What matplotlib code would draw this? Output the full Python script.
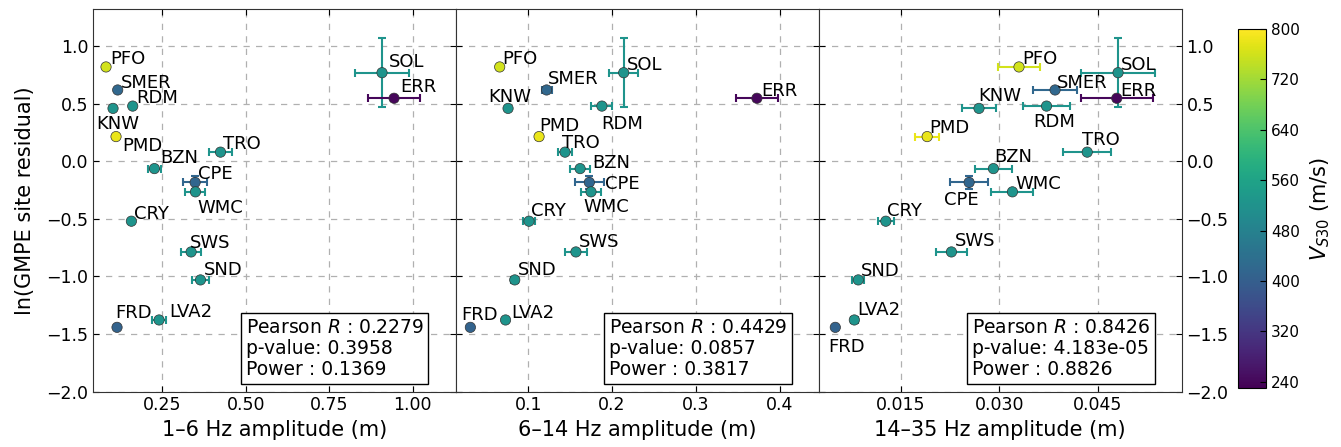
import matplotlib
matplotlib.use('Agg')
import matplotlib.pyplot as plt
import numpy as np

plt.rcParams.update({
    'font.family': 'DejaVu Sans',
    'xtick.direction': 'in',
    'ytick.direction': 'in',
    'xtick.top': True,
    'ytick.right': True,
    'xtick.major.size': 4,
    'ytick.major.size': 4,
    'mathtext.default': 'it',
})

# Station data
stations = ['PFO', 'SMER', 'RDM', 'KNW', 'PMD', 'BZN', 'TRO', 'CPE', 'WMC', 'CRY',
            'SOL', 'ERR', 'SWS', 'SND', 'FRD', 'LVA2']
vs30 = [760, 420, 525, 525, 780, 525, 525, 415, 525, 525,
        525, 240, 525, 525, 410, 525]
resid = [0.82, 0.62, 0.48, 0.46, 0.215, -0.063, 0.08, -0.183, -0.265, -0.52,
         0.77, 0.548, -0.787, -1.03, -1.442, -1.378]
resid_err = [0, 0, 0, 0, 0, 0, 0, 0.055, 0, 0,
             0.30, 0.02, 0, 0, 0, 0]

amp_1_6 = [0.081, 0.116, 0.161, 0.102, 0.111, 0.226, 0.424, 0.348, 0.349, 0.157,
           0.908, 0.944, 0.336, 0.364, 0.114, 0.240]
amp_1_6_err = [0, 0, 0, 0, 0, 0.019, 0.035, 0.036, 0.030, 0,
               0.080, 0.077, 0.030, 0.026, 0, 0.020]

amp_6_14 = [0.066, 0.122, 0.188, 0.076, 0.113, 0.162, 0.144, 0.173, 0.175, 0.101,
            0.214, 0.373, 0.157, 0.084, 0.031, 0.073]
amp_6_14_err = [0, 0.006, 0.0125, 0, 0.004, 0.012, 0.0084, 0.017, 0.012, 0.007,
                0.017, 0.025, 0.013, 0.004, 0, 0]

amp_14_35 = [0.0330, 0.0385, 0.0372, 0.0269, 0.0190, 0.0291, 0.0434, 0.0254, 0.0320, 0.0127,
             0.0481, 0.0479, 0.0227, 0.0085, 0.0050, 0.0079]
amp_14_35_err = [0.0032, 0.0034, 0.0036, 0.0026, 0.0018, 0.0028, 0.0037, 0.0029, 0.0032, 0.0012,
                 0.0056, 0.0055, 0.0023, 0.0009, 0, 0.0005]

xlabels = ['1\u20136 Hz amplitude (m)', '6\u201314 Hz amplitude (m)', '14\u201335 Hz amplitude (m)']
pearson_r = ['0.2279', '0.4429', '0.8426']
p_values = ['0.3958', '0.0857', '4.183e-05']
powers = ['0.1369', '0.3817', '0.8826']

# label offsets (pixels, left/baseline of text relative to point)
offsets = [
    {'PFO': (4, 3), 'SMER': (3, 2), 'RDM': (4, 3), 'KNW': (-17, -21), 'PMD': (6, -14),
     'BZN': (6, 6), 'TRO': (3, 3), 'CPE': (3, 3), 'WMC': (2, -21), 'CRY': (3, 2),
     'SOL': (7, 6), 'ERR': (6, 6), 'SWS': (-1, 4), 'SND': (3, 5), 'FRD': (-2, 9), 'LVA2': (10, 3)},
    {'PFO': (3, 3), 'SMER': (1, 6), 'RDM': (-1, -23), 'KNW': (-20, 6), 'PMD': (0, 6),
     'BZN': (12, 1), 'TRO': (-3, 4), 'CPE': (16, -7), 'WMC': (-8, -20), 'CRY': (2, 5),
     'SOL': (3, 3), 'ERR': (4, 2), 'SWS': (3, 5), 'SND': (3, 5), 'FRD': (-9, 7), 'LVA2': (6, 2)},
    {'PFO': (3, 3), 'SMER': (2, 2), 'RDM': (-13, -21), 'KNW': (-1, 7), 'PMD': (2, 4),
     'BZN': (1, 7), 'TRO': (-5, 7), 'CPE': (-25, -23), 'WMC': (3, 3), 'CRY': (1, 5),
     'SOL': (3, 3), 'ERR': (4, 2), 'SWS': (3, 6), 'SND': (3, 4), 'FRD': (-7, -25), 'LVA2': (3, 5)},
]

amps = [amp_1_6, amp_6_14, amp_14_35]
amp_errs = [amp_1_6_err, amp_6_14_err, amp_14_35_err]
xlims = [(0.043, 1.13), (0.014, 0.447), (0.0025, 0.0578)]
xticks = [[0.25, 0.5, 0.75, 1.0], [0.1, 0.2, 0.3, 0.4], [0.015, 0.030, 0.045]]
xfmt = ['{:.2f}', '{:.1f}', '{:.3f}']

cmap = plt.get_cmap('viridis')
norm = matplotlib.colors.Normalize(vmin=230, vmax=800)

fig = plt.figure(figsize=(13.41, 4.47), dpi=100)
left, right = 0.0696, 0.8812
bottom, top = 0.124, 0.979
w = (right - left) / 3

axes = []
for k in range(3):
    ax = fig.add_axes([left + k * w, bottom, w, top - bottom])
    axes.append(ax)
    for i, st in enumerate(stations):
        c = cmap(norm(vs30[i]))
        xe = amp_errs[k][i] if amp_errs[k][i] > 0 else None
        ye = resid_err[i] if resid_err[i] > 0 else None
        ax.errorbar(amps[k][i], resid[i], xerr=xe, yerr=ye, fmt='none',
                    ecolor=c, elinewidth=1.5, capsize=3, capthick=1.5, zorder=2)
    ax.scatter(amps[k], resid, c=vs30, cmap=cmap, norm=norm, s=55,
               edgecolors='#333333', linewidths=0.5, zorder=3)
    for i, st in enumerate(stations):
        dx, dy = offsets[k][st]
        ax.annotate(st, (amps[k][i], resid[i]), xytext=(dx, dy),
                    textcoords='offset pixels', ha='left', va='baseline',
                    fontsize=13, zorder=4)
    ax.set_xlim(*xlims[k])
    ax.set_ylim(-2.0, 1.32)
    ax.set_xticks(xticks[k])
    ax.set_xticklabels([xfmt[k].format(t) for t in xticks[k]], fontsize=12.5)
    ax.set_yticks(np.arange(-2.0, 1.01, 0.5))
    ax.grid(True, linestyle=(0, (5, 5)), color='#b0b0b0', linewidth=0.9)
    ax.set_axisbelow(True)
    ax.set_xlabel(xlabels[k], fontsize=15)
    ax.text(0.421, 0.032,
            'Pearson $R$ : ' + pearson_r[k] + '\np-value: ' + p_values[k] + '\nPower : ' + powers[k],
            transform=ax.transAxes, fontsize=13.5, ha='left', va='bottom', linespacing=1.15,
            bbox=dict(boxstyle='square,pad=0.25', facecolor='white', edgecolor='black', linewidth=1),
            zorder=5)
    for sp in ax.spines.values():
        sp.set_color('#333333')
    if k == 0:
        ax.set_yticklabels(['{:.1f}'.format(t).replace('-', '\u2212') for t in np.arange(-2.0, 1.01, 0.5)],
                           fontsize=12.5)
        ax.set_ylabel('ln(GMPE site residual)', fontsize=15, labelpad=8)
    elif k == 1:
        ax.tick_params(axis='y', labelleft=False)
    else:
        ax.tick_params(axis='y', labelleft=False, labelright=True, labelsize=12.5)

cax = fig.add_axes([0.9234, 0.132, 0.0207, 0.803])
sm = matplotlib.cm.ScalarMappable(norm=norm, cmap=cmap)
cb = fig.colorbar(sm, cax=cax, ticks=np.arange(240, 801, 80))
cb.ax.tick_params(labelsize=11, direction='in', length=4)
cb.set_label('$V_{S30}$ (m/s)', fontsize=15, labelpad=6)

fig.savefig('out.png', dpi=100)
